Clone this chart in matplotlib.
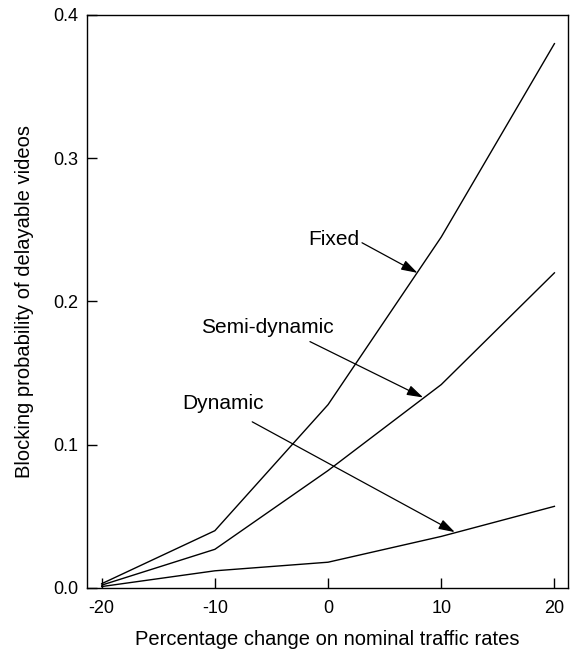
import matplotlib
matplotlib.use("Agg")
import matplotlib.pyplot as plt
from matplotlib.ticker import FixedLocator, FixedFormatter

plt.rcParams['font.family'] = ['Liberation Sans', 'DejaVu Sans']

x = [-20, -10, 0, 10, 20]
fixed = [0.003, 0.040, 0.128, 0.245, 0.380]
semi = [0.002, 0.027, 0.082, 0.142, 0.220]
dynamic = [0.001, 0.012, 0.018, 0.036, 0.057]

xticks = [-20, -10, 0, 10, 20]
xticklabels = ['-20', '-10', '0', '10', '20']
yticks = [0.0, 0.1, 0.2, 0.3, 0.4]
yticklabels = ['0.0', '0.1', '0.2', '0.3', '0.4']

fig = plt.figure(figsize=(5.70, 6.49), dpi=100)
ax = fig.add_axes([0.1526, 0.094, 0.9965 - 0.1526, 0.9769 - 0.094])

for ys in (fixed, semi, dynamic):
    ax.plot(x, ys, color='black', lw=1.0)

ax.set_xlim(-21.3, 21.2)
ax.set_ylim(0, 0.4)
ax.xaxis.set_major_locator(FixedLocator(xticks))
ax.xaxis.set_major_formatter(FixedFormatter(xticklabels))
ax.yaxis.set_major_locator(FixedLocator(yticks))
ax.yaxis.set_major_formatter(FixedFormatter(yticklabels))
ax.tick_params(direction='in', length=7, width=1, labelsize=13,
               top=False, right=False)
ax.tick_params(axis='x', pad=9)
ax.tick_params(axis='y', pad=6)
for s in ax.spines.values():
    s.set_linewidth(1.0)

ax.set_xlabel('Percentage change on nominal traffic rates', fontsize=14.5, labelpad=9)
ax.set_ylabel('Blocking probability of delayable videos', fontsize=14.5, labelpad=14)

arrow = dict(arrowstyle='-|>,head_length=0.7,head_width=0.22', color='black',
             lw=0.9, mutation_scale=14, shrinkA=0, shrinkB=0)

# labels
ax.text(2.8, 0.243, 'Fixed', fontsize=15, ha='right', va='center')
ax.text(-5.4, 0.182, 'Semi-dynamic', fontsize=15, ha='center', va='center')
ax.text(-9.3, 0.129, 'Dynamic', fontsize=15, ha='center', va='center')

# arrows
ax.annotate('', xy=(7.9, 0.220), xytext=(3.0, 0.241), arrowprops=arrow)
ax.annotate('', xy=(8.4, 0.133), xytext=(-1.6, 0.172), arrowprops=arrow)
ax.annotate('', xy=(11.2, 0.039), xytext=(-6.7, 0.116), arrowprops=arrow)

fig.savefig('out.png', dpi=100)
